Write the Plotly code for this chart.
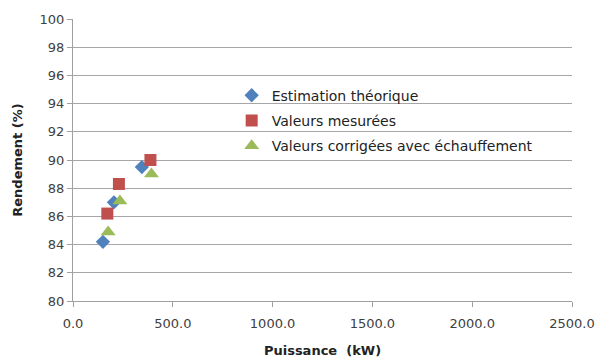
import plotly.graph_objects as go

# Efficiency vs power for three data sets
puissance_theorique = [150, 205, 345]
rendement_theorique = [84.2, 87.0, 89.5]

puissance_mesuree = [172, 230, 388]
rendement_mesure = [86.2, 88.3, 90.0]

puissance_corrigee = [176, 235, 393]
rendement_corrige = [84.9, 87.1, 89.0]

x_ticks = [0, 500, 1000, 1500, 2000, 2500]
y_ticks = list(range(80, 101, 2))

fig = go.Figure()
fig.add_trace(go.Scatter(
    x=puissance_theorique, y=rendement_theorique, mode="markers",
    name="Estimation théorique", legendgroup="a",
    marker=dict(symbol="diamond", size=11, color="#4F81BD"),
))
fig.add_trace(go.Scatter(
    x=puissance_mesuree, y=rendement_mesure, mode="markers",
    name="Valeurs mesurées", legendgroup="b",
    marker=dict(symbol="square", size=12, color="#C0504D"),
))
fig.add_trace(go.Scatter(
    x=puissance_corrigee, y=rendement_corrige, mode="markers",
    name="Valeurs corrigées avec échauffement", legendgroup="c",
    marker=dict(symbol="triangle-up", size=13, color="#9BBB59"),
))

base_font = "DejaVu Sans, Liberation Sans, sans-serif"

fig.update_layout(
    width=598, height=359,
    margin=dict(l=73, r=26, t=19, b=58, autoexpand=False),
    paper_bgcolor="white", plot_bgcolor="white",
    font=dict(family=base_font, size=13, color="#404040"),
    showlegend=True,
    legend=dict(
        x=0.318, y=0.785, xanchor="left", yanchor="top",
        bgcolor="rgba(0,0,0,0)", traceorder="grouped", tracegroupgap=4,
        font=dict(family=base_font, size=14, color="#222222"),
        itemsizing="trace",
    ),
    xaxis=dict(
        range=[0, 2500], tickvals=x_ticks, tickformat=".1f",
        showgrid=False, zeroline=False, automargin=False,
        showline=True, linecolor="#A0A0A0", linewidth=1,
        ticks="outside", ticklen=5, tickcolor="#A0A0A0",
        ticklabelstandoff=5,
        title=dict(text="<b>Puissance  (kW)</b>", standoff=16,
                   font=dict(size=13, color="#222222")),
    ),
    yaxis=dict(
        range=[80, 100], tickvals=y_ticks, automargin=False,
        showgrid=True, gridcolor="#A6A6A6", gridwidth=1, zeroline=False,
        showline=True, linecolor="#A0A0A0", linewidth=1,
        ticks="outside", ticklen=5, tickcolor="#A0A0A0",
        title=dict(text="<b>Rendement (%)</b>", standoff=14,
                   font=dict(size=13, color="#222222")),
    ),
)

fig.write_html("out.html")
